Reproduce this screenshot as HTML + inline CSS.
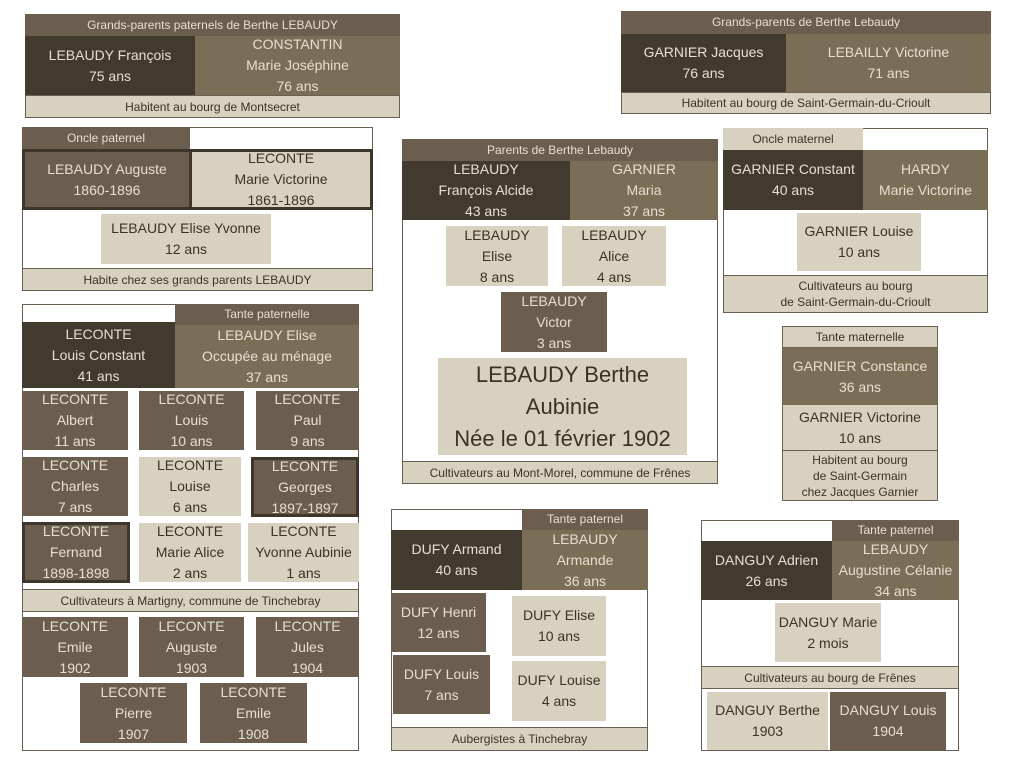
<!DOCTYPE html>
<html><head><meta charset="utf-8"><style>
body{margin:0;width:1023px;height:768px;background:#fff;position:relative;overflow:hidden;font-family:"Liberation Sans",sans-serif}
.b{position:absolute;box-sizing:border-box;display:flex;flex-direction:column;align-items:center;justify-content:center;text-align:center;font-size:14px;line-height:21px;white-space:nowrap;overflow:hidden}
.o{position:absolute;box-sizing:border-box;border:1px solid #6a5f52;background:#fff}
.d{background:#433a2f;color:#e6dfd0}
.m{background:#6b5e4f;color:#e6dfd0}
.v{background:#7a6e57;color:#e6dfd0}
.l{background:#d9d1c0;color:#3a3226}
.h{font-size:12px;line-height:15px}
.f{font-size:12px;line-height:16px;border-top:1px solid #6a5f52}
.k{border:3px solid #3e352b}
</style></head><body>

<!-- Box1 -->
<div class="o" style="left:25px;top:14px;width:375px;height:104px"></div>
<div class="b m h" style="left:25px;top:14px;width:375px;height:22px">Grands-parents paternels de Berthe LEBAUDY</div>
<div class="b d" style="left:25px;top:36px;width:170px;height:59px">LEBAUDY François<br>75 ans</div>
<div class="b v" style="left:195px;top:36px;width:205px;height:59px">CONSTANTIN<br>Marie Joséphine<br>76 ans</div>
<div class="b l f" style="left:25px;top:95px;width:375px;height:23px;border:1px solid #6a5f52">Habitent au bourg de Montsecret</div>

<!-- Box2 -->
<div class="o" style="left:621px;top:11px;width:370px;height:103px"></div>
<div class="b m h" style="left:621px;top:11px;width:370px;height:23px">Grands-parents de Berthe Lebaudy</div>
<div class="b d" style="left:621px;top:34px;width:165px;height:58px">GARNIER Jacques<br>76 ans</div>
<div class="b v" style="left:786px;top:34px;width:205px;height:58px">LEBAILLY Victorine<br>71 ans</div>
<div class="b l f" style="left:621px;top:92px;width:370px;height:22px;border:1px solid #6a5f52">Habitent au bourg de Saint-Germain-du-Crioult</div>

<!-- Box3 -->
<div class="o" style="left:22px;top:127px;width:351px;height:164px"></div>
<div class="b m h" style="left:22px;top:127px;width:168px;height:22px">Oncle paternel</div>
<div class="b m k" style="left:22px;top:149px;width:170px;height:61px">LEBAUDY Auguste<br>1860-1896</div>
<div class="b l k" style="left:189px;top:149px;width:184px;height:61px">LECONTE<br>Marie Victorine<br>1861-1896</div>
<div class="b l" style="left:101px;top:214px;width:170px;height:50px">LEBAUDY Elise Yvonne<br>12 ans</div>
<div class="b l f" style="left:22px;top:268px;width:351px;height:23px;border:1px solid #6a5f52">Habite chez ses grands parents LEBAUDY</div>

<!-- Box4 -->
<div class="o" style="left:402px;top:139px;width:316px;height:345px"></div>
<div class="b m h" style="left:402px;top:139px;width:316px;height:22px">Parents de Berthe Lebaudy</div>
<div class="b d" style="left:402px;top:161px;width:168px;height:59px">LEBAUDY<br>François Alcide<br>43 ans</div>
<div class="b v" style="left:570px;top:161px;width:148px;height:59px">GARNIER<br>Maria<br>37 ans</div>
<div class="b l" style="left:446px;top:226px;width:102px;height:60px">LEBAUDY<br>Elise<br>8 ans</div>
<div class="b l" style="left:562px;top:226px;width:104px;height:60px">LEBAUDY<br>Alice<br>4 ans</div>
<div class="b m" style="left:501px;top:292px;width:106px;height:60px">LEBAUDY<br>Victor<br>3 ans</div>
<div class="b l" style="left:438px;top:358px;width:249px;height:97px;font-size:22px;line-height:32px">LEBAUDY Berthe<br>Aubinie<br>Née le 01 février 1902</div>
<div class="b l f" style="left:402px;top:461px;width:316px;height:23px;border:1px solid #6a5f52">Cultivateurs au Mont-Morel, commune de Frênes</div>

<!-- Box5 -->
<div class="o" style="left:723px;top:128px;width:265px;height:185px"></div>
<div class="b l h" style="left:723px;top:128px;width:140px;height:22px">Oncle maternel</div>
<div class="b d" style="left:723px;top:150px;width:140px;height:60px">GARNIER Constant<br>40 ans</div>
<div class="b v" style="left:863px;top:150px;width:125px;height:60px">HARDY<br>Marie Victorine</div>
<div class="b l" style="left:797px;top:213px;width:124px;height:58px">GARNIER Louise<br>10 ans</div>
<div class="b l f" style="left:723px;top:275px;width:265px;height:38px;border:1px solid #6a5f52">Cultivateurs au bourg<br>de Saint-Germain-du-Crioult</div>

<!-- Box6 -->
<div class="o" style="left:782px;top:326px;width:156px;height:175px"></div>
<div class="b l h" style="left:782px;top:326px;width:156px;height:22px;border:1px solid #6a5f52">Tante maternelle</div>
<div class="b v" style="left:783px;top:348px;width:154px;height:57px">GARNIER Constance<br>36 ans</div>
<div class="b l" style="left:783px;top:405px;width:154px;height:45px">GARNIER Victorine<br>10 ans</div>
<div class="b l f" style="left:782px;top:450px;width:156px;height:51px;border:1px solid #6a5f52">Habitent au bourg<br>de Saint-Germain<br>chez Jacques Garnier</div>

<!-- Box7 -->
<div class="o" style="left:22px;top:304px;width:337px;height:447px"></div>
<div class="b m h" style="left:175px;top:304px;width:184px;height:21px">Tante paternelle</div>
<div class="b d" style="left:22px;top:322px;width:153px;height:66px">LECONTE<br>Louis Constant<br>41 ans</div>
<div class="b v" style="left:175px;top:325px;width:184px;height:63px">LEBAUDY Elise<br>Occupée au ménage<br>37 ans</div>
<div class="b m" style="left:22px;top:391px;width:106px;height:59px">LECONTE<br>Albert<br>11 ans</div>
<div class="b m" style="left:139px;top:391px;width:105px;height:59px">LECONTE<br>Louis<br>10 ans</div>
<div class="b m" style="left:256px;top:391px;width:103px;height:59px">LECONTE<br>Paul<br>9 ans</div>
<div class="b m" style="left:22px;top:457px;width:106px;height:59px">LECONTE<br>Charles<br>7 ans</div>
<div class="b l" style="left:139px;top:457px;width:102px;height:59px">LECONTE<br>Louise<br>6 ans</div>
<div class="b m k" style="left:251px;top:457px;width:108px;height:60px">LECONTE<br>Georges<br>1897-1897</div>
<div class="b m k" style="left:22px;top:522px;width:108px;height:61px">LECONTE<br>Fernand<br>1898-1898</div>
<div class="b l" style="left:139px;top:523px;width:102px;height:59px">LECONTE<br>Marie Alice<br>2 ans</div>
<div class="b l" style="left:248px;top:523px;width:111px;height:59px">LECONTE<br>Yvonne Aubinie<br>1 ans</div>
<div class="b l f" style="left:22px;top:589px;width:337px;height:23px;border:1px solid #6a5f52">Cultivateurs à Martigny, commune de Tinchebray</div>
<div class="b m" style="left:22px;top:617px;width:106px;height:60px">LECONTE<br>Emile<br>1902</div>
<div class="b m" style="left:139px;top:617px;width:105px;height:60px">LECONTE<br>Auguste<br>1903</div>
<div class="b m" style="left:256px;top:617px;width:103px;height:60px">LECONTE<br>Jules<br>1904</div>
<div class="b m" style="left:80px;top:683px;width:107px;height:60px">LECONTE<br>Pierre<br>1907</div>
<div class="b m" style="left:200px;top:683px;width:107px;height:60px">LECONTE<br>Emile<br>1908</div>

<!-- Box8 -->
<div class="o" style="left:391px;top:509px;width:257px;height:242px"></div>
<div class="b m h" style="left:522px;top:509px;width:126px;height:21px">Tante paternel</div>
<div class="b d" style="left:391px;top:530px;width:131px;height:60px">DUFY Armand<br>40 ans</div>
<div class="b v" style="left:522px;top:530px;width:126px;height:60px">LEBAUDY<br>Armande<br>36 ans</div>
<div class="b m" style="left:391px;top:593px;width:95px;height:59px">DUFY Henri<br>12 ans</div>
<div class="b l" style="left:512px;top:596px;width:94px;height:60px">DUFY Elise<br>10 ans</div>
<div class="b m" style="left:393px;top:655px;width:97px;height:59px">DUFY Louis<br>7 ans</div>
<div class="b l" style="left:512px;top:661px;width:94px;height:60px">DUFY Louise<br>4 ans</div>
<div class="b l f" style="left:391px;top:727px;width:257px;height:24px;border:1px solid #6a5f52">Aubergistes à Tinchebray</div>

<!-- Box9 -->
<div class="o" style="left:701px;top:520px;width:258px;height:231px"></div>
<div class="b m h" style="left:832px;top:520px;width:127px;height:21px">Tante paternel</div>
<div class="b d" style="left:701px;top:541px;width:131px;height:59px">DANGUY Adrien<br>26 ans</div>
<div class="b v" style="left:832px;top:541px;width:127px;height:59px">LEBAUDY<br>Augustine Célanie<br>34 ans</div>
<div class="b l" style="left:775px;top:603px;width:106px;height:59px">DANGUY Marie<br>2 mois</div>
<div class="b l f" style="left:701px;top:666px;width:258px;height:23px;border:1px solid #6a5f52">Cultivateurs au bourg de Frênes</div>
<div class="b l" style="left:707px;top:692px;width:121px;height:58px">DANGUY Berthe<br>1903</div>
<div class="b m" style="left:830px;top:692px;width:116px;height:58px">DANGUY Louis<br>1904</div>

</body></html>
